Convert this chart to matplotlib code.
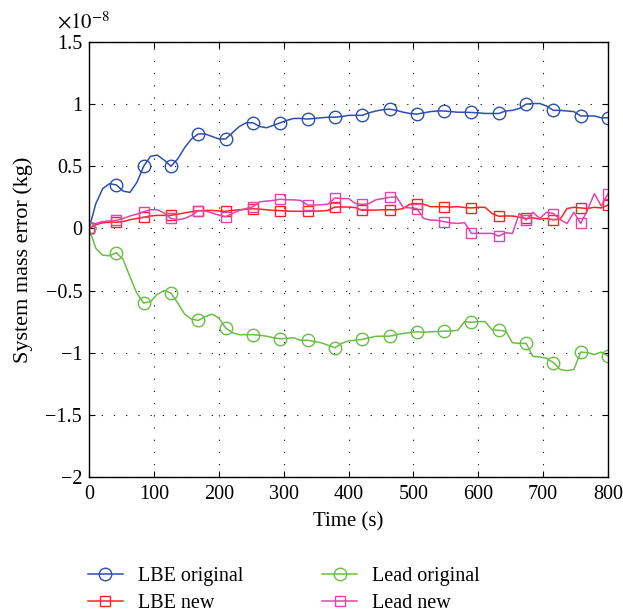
import numpy as np
import matplotlib
matplotlib.use("Agg")
import matplotlib.pyplot as plt

# -------------------------------
# Data (values in units of 1e-8 kg), sampled every 800/76 s
# -------------------------------
time_s = np.linspace(0, 800, 77)

lbe_original = [
    0, 0.20, 0.32, 0.36, 0.35, 0.30, 0.29, 0.37, 0.50, 0.58,
    0.59, 0.55, 0.50, 0.56, 0.65, 0.72, 0.76, 0.76, 0.74, 0.72,
    0.72, 0.77, 0.82, 0.85, 0.85, 0.82, 0.81, 0.83, 0.85, 0.87,
    0.885, 0.885, 0.88, 0.885, 0.89, 0.895, 0.895, 0.90, 0.91, 0.91,
    0.91, 0.93, 0.945, 0.955, 0.96, 0.95, 0.935, 0.925, 0.92, 0.93,
    0.94, 0.945, 0.945, 0.94, 0.935, 0.935, 0.933, 0.93, 0.925, 0.925,
    0.925, 0.945, 0.95, 0.965, 1.0, 1.005, 1.005, 0.985, 0.95, 0.95,
    0.945, 0.94, 0.905, 0.905, 0.905, 0.89, 0.89,
]

lbe_new = [
    0, 0.03, 0.045, 0.05, 0.05, 0.055, 0.07, 0.08, 0.09, 0.10,
    0.105, 0.105, 0.105, 0.115, 0.125, 0.135, 0.143, 0.145, 0.145, 0.14,
    0.138, 0.145, 0.15, 0.155, 0.158, 0.155, 0.15, 0.145, 0.143, 0.14,
    0.138, 0.138, 0.137, 0.14, 0.14, 0.145, 0.172, 0.172, 0.172, 0.168,
    0.145, 0.147, 0.148, 0.15, 0.15, 0.15, 0.16, 0.195, 0.20, 0.195,
    0.175, 0.175, 0.175, 0.172, 0.175, 0.168, 0.165, 0.17, 0.17, 0.12,
    0.098, 0.10, 0.10, 0.09, 0.08, 0.085, 0.075, 0.08, 0.07, 0.075,
    0.16, 0.17, 0.165, 0.16, 0.17, 0.165, 0.188,
]

lead_original = [
    0, -0.16, -0.215, -0.22, -0.195, -0.25, -0.39, -0.52, -0.60, -0.59,
    -0.53, -0.50, -0.52, -0.60, -0.69, -0.73, -0.74, -0.71, -0.69, -0.72,
    -0.80, -0.84, -0.855, -0.855, -0.855, -0.86, -0.867, -0.88, -0.888, -0.885,
    -0.88, -0.90, -0.90, -0.91, -0.92, -0.94, -0.96, -0.925, -0.905, -0.90,
    -0.893, -0.88, -0.868, -0.867, -0.867, -0.855, -0.845, -0.838, -0.832, -0.835,
    -0.832, -0.83, -0.827, -0.825, -0.82, -0.75, -0.755, -0.75, -0.75, -0.815,
    -0.82, -0.825, -0.92, -0.925, -0.925, -1.03, -1.035, -1.045, -1.08, -1.135,
    -1.145, -1.135, -0.995, -1.0, -1.015, -0.995, -1.027,
]

lead_new = [
    0, 0.04, 0.055, 0.06, 0.065, 0.08, 0.10, 0.115, 0.134, 0.15,
    0.15, 0.125, 0.08, 0.07, 0.08, 0.105, 0.142, 0.14, 0.125, 0.107,
    0.094, 0.12, 0.145, 0.16, 0.174, 0.214, 0.22, 0.225, 0.235, 0.23,
    0.23, 0.225, 0.188, 0.188, 0.19, 0.196, 0.245, 0.24, 0.24, 0.20,
    0.193, 0.20, 0.23, 0.24, 0.25, 0.255, 0.17, 0.165, 0.16, 0.08,
    0.067, 0.065, 0.054, 0.045, 0.04, 0.046, -0.04, -0.04, -0.04, -0.04,
    -0.062, -0.035, -0.04, 0.12, 0.067, 0.13, 0.08, 0.13, 0.12, 0.07,
    0.04, 0.13, 0.04, 0.15, 0.28, 0.18, 0.28,
]

x_ticks = [0, 100, 200, 300, 400, 500, 600, 700, 800]
y_ticks = [-2, -1.5, -1, -0.5, 0, 0.5, 1, 1.5]
y_tick_labels = ["\u22122", "\u22121.5", "\u22121", "\u22120.5", "0", "0.5", "1", "1.5"]

# -------------------------------
# Plot
# -------------------------------
plt.rcParams["font.family"] = ["Liberation Serif", "DejaVu Serif"]
plt.rcParams["mathtext.fontset"] = "stix"

fig = plt.figure(figsize=(6.23, 6.16), dpi=100)
ax = fig.add_axes([0.1429, 0.2257, 0.8331, 0.7061])

ax.plot(time_s, lbe_original, color="#2e4fae", lw=1.1, marker="o", ms=9,
        mfc="none", mew=1.0, markevery=4, label="LBE original")
ax.plot(time_s, lbe_new, color="#ff2222", lw=1.1, marker="s", ms=7.5,
        mfc="none", mew=1.0, markevery=4, label="LBE new")
ax.plot(time_s, lead_original, color="#6abf45", lw=1.1, marker="o", ms=9,
        mfc="none", mew=1.0, markevery=4, label="Lead original")
ax.plot(time_s, lead_new, color="#de46a8", lw=1.1, marker="s", ms=7.5,
        mfc="none", mew=1.0, markevery=4, label="Lead new")

ax.set_xlim(0, 800)
ax.set_ylim(-2, 1.5)
ax.set_xticks(x_ticks)
ax.set_yticks(y_ticks)
ax.set_yticklabels(y_tick_labels)
ax.tick_params(direction="in", top=True, right=True, labelsize=14.5, length=4)
ax.tick_params(axis="x", pad=6)
ax.tick_params(axis="y", pad=5)
ax.grid(True, color="black", linestyle=(0, (1, 10)), linewidth=0.8)
for s in ax.spines.values():
    s.set_linewidth(1.0)

ax.set_xlabel("Time (s)", fontsize=15, labelpad=6)
ax.set_ylabel("System mass error (kg)", fontsize=16, labelpad=9)
ax.text(-0.062, 1.02, r"$\times10^{-8}$", transform=ax.transAxes, fontsize=15,
        ha="left", va="bottom")

fig.legend(loc="upper left", bbox_to_anchor=(0.128, 0.092), ncol=2, frameon=False,
           fontsize=14.5, handlelength=1.75, handletextpad=0.75,
           columnspacing=3.9, labelspacing=0.36, borderaxespad=0)

fig.savefig("out.png", dpi=100)
